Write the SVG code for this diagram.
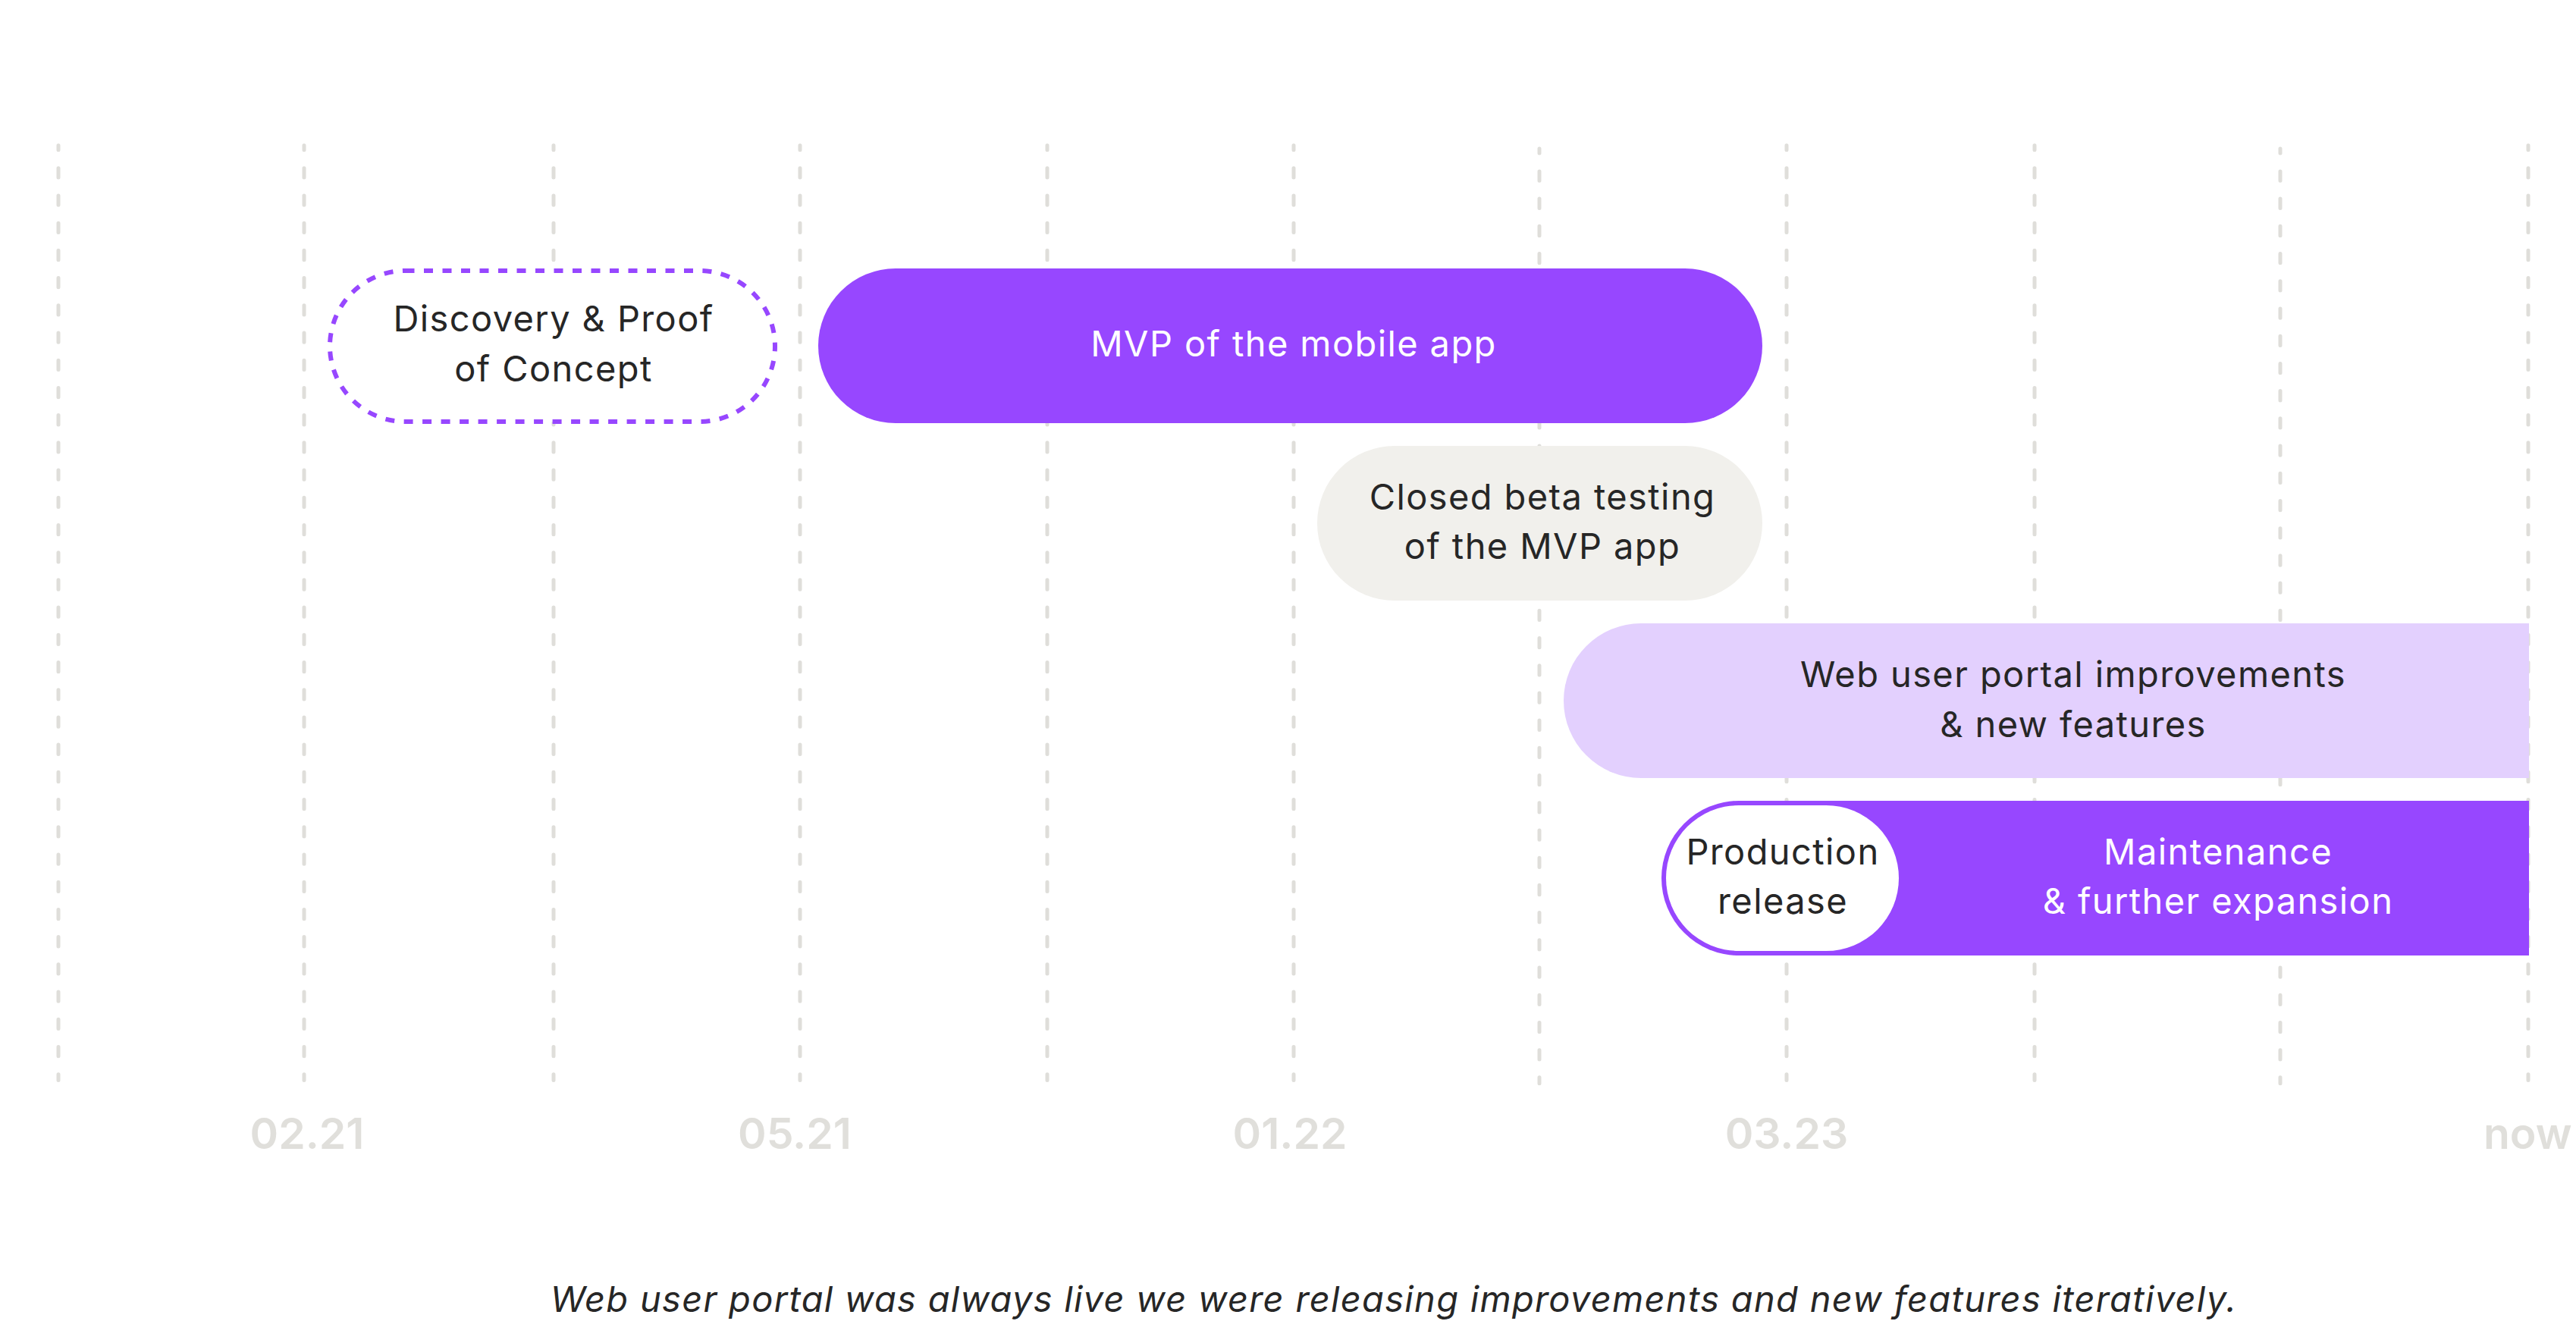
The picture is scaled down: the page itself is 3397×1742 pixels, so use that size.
<svg xmlns="http://www.w3.org/2000/svg" width="3397" height="1742" viewBox="0 0 3397 1742">
<style>
.grid{stroke:#DFDEDA;stroke-width:5;stroke-linecap:round;stroke-dasharray:12.3 23.91;stroke-dashoffset:6.3;fill:none}
.lbl{font-family:Inter,"Noto Sans",sans-serif;font-size:47px;letter-spacing:1.4px;text-anchor:middle}
.dark{fill:#262626}
.light{fill:#FFFFFF}
.axis{font-family:Inter,"Noto Sans",sans-serif;font-size:57px;font-weight:600;fill:#E0DFDB;text-anchor:middle}
.cap{font-family:Inter,"Noto Sans",sans-serif;font-size:47px;letter-spacing:1.3px;font-style:italic;fill:#262626;text-anchor:middle}
</style>
<rect width="3397" height="1742" fill="#FFFFFF"/>
<g id="gridlines">
<line class="grid" x1="77" y1="191.8" x2="77" y2="1424.5"/>
<line class="grid" x1="401" y1="191.8" x2="401" y2="1424.5"/>
<line class="grid" x1="730" y1="191.8" x2="730" y2="1424.5"/>
<line class="grid" x1="1055" y1="191.8" x2="1055" y2="1424.5"/>
<line class="grid" x1="1381" y1="191.8" x2="1381" y2="1424.5"/>
<line class="grid" x1="1706" y1="191.8" x2="1706" y2="1424.5"/>
<line class="grid" x1="2030" y1="196" x2="2030" y2="1428.7"/>
<line class="grid" x1="2356" y1="191.8" x2="2356" y2="1424.5"/>
<line class="grid" x1="2683" y1="191.8" x2="2683" y2="1424.5"/>
<line class="grid" x1="3007" y1="196" x2="3007" y2="1428.7"/>
<line class="grid" x1="3334" y1="191.8" x2="3334" y2="1424.5"/>
</g>
<g id="axis">
<text class="axis" x="405" y="1515">02.21</text>
<text class="axis" x="1048" y="1515">05.21</text>
<text class="axis" x="1701" y="1515">01.22</text>
<text class="axis" x="2356" y="1515">03.23</text>
<text class="axis" x="3275" y="1515" style="text-anchor:start">now</text>
</g>
<g id="connectors"></g>
<g id="discovery">
<rect x="435" y="357" width="587" height="199" rx="99.5" fill="#FFFFFF" stroke="#9747FF" stroke-width="6" stroke-dasharray="12 12.5"/>
<text class="lbl dark" x="730" y="437">Discovery &amp; Proof</text>
<text class="lbl dark" x="730" y="503">of Concept</text>
</g>
<g id="mvp">
<rect x="1079" y="354" width="1245" height="204" rx="102" fill="#9747FF"/>
<text class="lbl light" x="1706" y="470">MVP of the mobile app</text>
</g>
<g id="beta">
<rect x="1737" y="588" width="587" height="204" rx="102" fill="#F1F0EC"/>
<text class="lbl dark" x="2034" y="672">Closed beta testing</text>
<text class="lbl dark" x="2034" y="737">of the MVP app</text>
</g>
<g id="webportal">
<path d="M2164 822H3335V1026H2164A102 102 0 0 1 2164 822Z" fill="#E3D0FE"/>
<text class="lbl dark" x="2734" y="906">Web user portal improvements</text>
<text class="lbl dark" x="2734" y="972">&amp; new features</text>
</g>
<g id="maintenance">
<path d="M2293 1056H3335V1260H2293A102 102 0 0 1 2293 1056Z" fill="#9747FF"/>
<text class="lbl light" x="2925" y="1140">Maintenance</text>
<text class="lbl light" x="2925" y="1205">&amp; further expansion</text>
</g>
<g id="production">
<rect x="2197" y="1062" width="307" height="192" rx="96" fill="#FFFFFF"/>
<text class="lbl dark" x="2351" y="1140">Production</text>
<text class="lbl dark" x="2351" y="1205">release</text>
</g>
<g id="caption">
<text class="cap" x="1838" y="1730">Web user portal was always live we were releasing improvements and new features iteratively.</text>
</g>
</svg>
